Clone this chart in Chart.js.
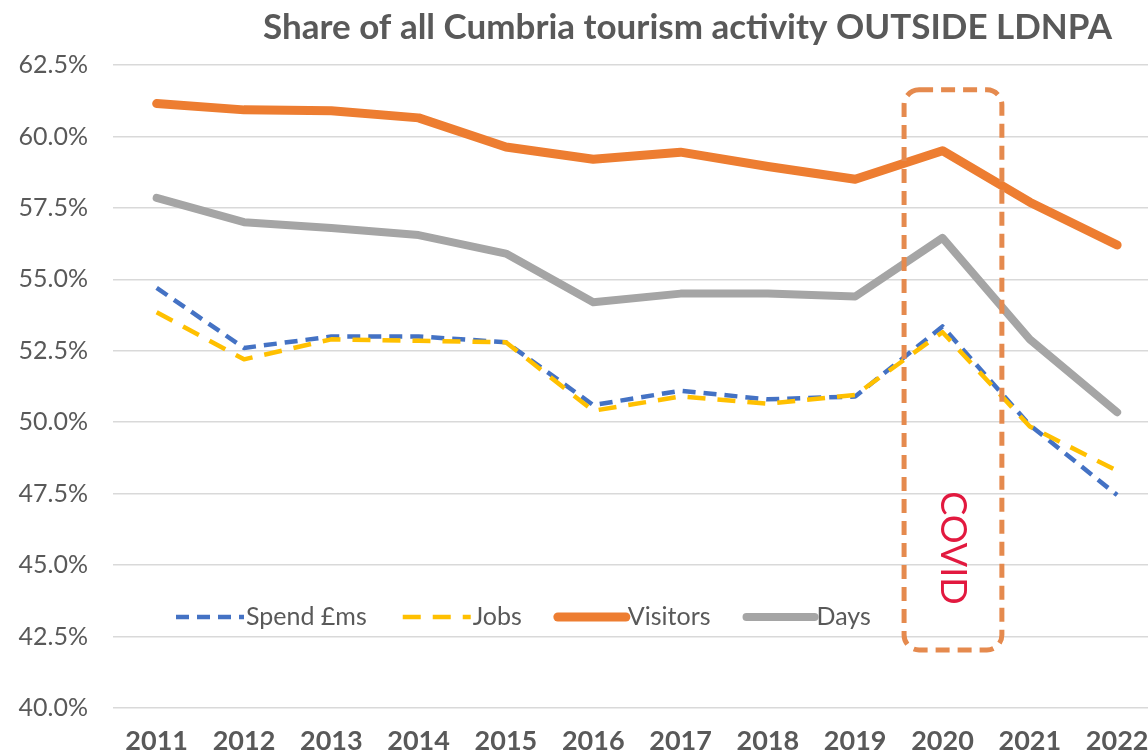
<!DOCTYPE html>
<html>
<head>
<meta charset="utf-8">
<script src="https://cdn.jsdelivr.net/npm/chart.js@4.4.1/dist/chart.umd.min.js"></script>
<style>
  html, body { margin: 0; padding: 0; background: #fff; overflow: hidden; }
  /* the original picture is cropped on the right, so the canvas runs past the window */
  #wrap { position: relative; width: 1180px; height: 755px; }
</style>
</head>
<body>
<div id="wrap"><canvas id="lineChart"></canvas></div>
<script>
// chart data
const years = [2011, 2012, 2013, 2014, 2015, 2016, 2017, 2018, 2019, 2020, 2021, 2022];
const spend = [54.7, 52.6, 53.0, 53.0, 52.8, 50.6, 51.1, 50.8, 50.9, 53.35, 49.9, 47.45];
const jobs = [53.85, 52.2, 52.9, 52.85, 52.8, 50.4, 50.9, 50.65, 50.95, 53.15, 49.85, 48.3];
const visitors = [61.15, 60.93, 60.9, 60.65, 59.63, 59.2, 59.45, 58.95, 58.5, 59.5, 57.7, 56.2];
const days = [57.85, 57.0, 56.8, 56.55, 55.9, 54.2, 54.5, 54.5, 54.4, 56.45, 52.9, 50.35];
const yTicks = [40, 42.5, 45, 47.5, 50, 52.5, 55, 57.5, 60, 62.5];

const titleText = 'Share of all Cumbria tourism activity OUTSIDE LDNPA';
const FONT = 'Lato, "Open Sans", sans-serif';
const GREY_TEXT = '#595959';

// covid box in data units
const covidBox = { x0: 2019.56, x1: 2020.68, y0: 42.03, y1: 61.63 };

function toPoints(values) {
    return values.map((v, i) => ({ x: years[i], y: v }));
}

// title drawn right-aligned like the original
const titlePlugin = {
    id: 'customTitle',
    afterDraw(chart) {
        const ctx = chart.ctx;
        ctx.save();
        ctx.font = 'bold 35px ' + FONT;
        ctx.fillStyle = GREY_TEXT;
        ctx.textAlign = 'right';
        ctx.textBaseline = 'middle';
        ctx.fillText(titleText, 1112, 28);
        ctx.restore();
    }
};

// the dashed COVID box and its rotated label
const covidPlugin = {
    id: 'covidBox',
    afterDatasetsDraw(chart) {
        const { ctx, scales: { x, y } } = chart;
        const l = x.getPixelForValue(covidBox.x0);
        const r = x.getPixelForValue(covidBox.x1);
        const t = y.getPixelForValue(covidBox.y1);
        const b = y.getPixelForValue(covidBox.y0);
        ctx.save();
        ctx.strokeStyle = '#E58A4E';
        ctx.lineWidth = 5;
        ctx.setLineDash([14, 8]);
        ctx.beginPath();
        ctx.roundRect(l, t, r - l, b - t, 15);
        ctx.stroke();
        ctx.setLineDash([]);
        ctx.translate((l + r) / 2, y.getPixelForValue(45.6));
        ctx.rotate(Math.PI / 2);
        ctx.font = '36px ' + FONT;
        ctx.fillStyle = '#E2193F';
        ctx.textAlign = 'center';
        ctx.textBaseline = 'middle';
        ctx.fillText('COVID', 0, 0);
        ctx.restore();
    }
};

// legend inside the plot area
const legendPlugin = {
    id: 'innerLegend',
    afterDraw(chart) {
        const ctx = chart.ctx;
        let xPos = 176;
        const yPos = 617;
        ctx.save();
        ctx.font = '25px ' + FONT;
        ctx.textBaseline = 'middle';
        ctx.textAlign = 'left';
        chart.data.datasets.forEach(ds => {
            ctx.strokeStyle = ds.borderColor;
            ctx.lineWidth = ds.borderWidth;
            ctx.lineCap = ds.borderCapStyle || 'butt';
            ctx.setLineDash(ds.borderDash || []);
            ctx.beginPath();
            ctx.moveTo(xPos, yPos);
            ctx.lineTo(xPos + 68, yPos);
            ctx.stroke();
            ctx.setLineDash([]);
            ctx.fillStyle = GREY_TEXT;
            ctx.fillText(ds.label, xPos + 70, yPos);
            xPos += 70 + ctx.measureText(ds.label).width + 36;
        });
        ctx.restore();
    }
};

const ctx = document.getElementById('lineChart').getContext('2d');
const lineChart = new Chart(ctx, {
    type: 'line',
    data: {
        datasets: [
            {
                label: 'Spend £ms',
                data: toPoints(spend),
                borderColor: '#4472C4',
                borderWidth: 4.5,
                borderDash: [13, 8],
                order: 2
            },
            {
                label: 'Jobs',
                data: toPoints(jobs),
                borderColor: '#FFC000',
                borderWidth: 4.5,
                borderDash: [18, 12],
                order: 1
            },
            {
                label: 'Visitors',
                data: toPoints(visitors),
                borderColor: '#ED7D31',
                borderWidth: 9,
                borderCapStyle: 'round',
                order: 3
            },
            {
                label: 'Days',
                data: toPoints(days),
                borderColor: '#A5A5A5',
                borderWidth: 8,
                borderCapStyle: 'round',
                order: 4
            }
        ]
    },
    options: {
        responsive: true,
        maintainAspectRatio: false,
        animation: false,
        layout: { padding: { top: 65, right: 0, bottom: 0, left: 0 } },
        elements: {
            point: { radius: 0, hoverRadius: 0 },
            line: { tension: 0, borderJoinStyle: 'round', fill: false }
        },
        plugins: {
            legend: { display: false },
            title: { display: false },
            tooltip: { enabled: false }
        },
        scales: {
            x: {
                type: 'linear',
                min: 2010.5,
                max: 2022.72,
                afterBuildTicks: scale => { scale.ticks = years.map(v => ({ value: v })); },
                afterFit: scale => { scale.height = 47; },
                ticks: {
                    callback: v => String(v),
                    color: GREY_TEXT,
                    font: { family: FONT, size: 27, weight: 'bold', lineHeight: 1 },
                    padding: 20,
                    maxRotation: 0,
                    autoSkip: false
                },
                grid: { display: false, drawTicks: false },
                border: { display: false }
            },
            y: {
                min: 40,
                max: 62.5,
                afterBuildTicks: scale => { scale.ticks = yTicks.map(v => ({ value: v })); },
                afterFit: scale => { scale.width = 113; },
                ticks: {
                    callback: v => v.toFixed(1) + '%',
                    color: GREY_TEXT,
                    font: { family: FONT, size: 25 },
                    padding: 25
                },
                grid: { color: '#D9D9D9', lineWidth: 1.5, drawTicks: false },
                border: { display: false }
            }
        }
    },
    plugins: [covidPlugin, legendPlugin, titlePlugin]
});
</script>
</body>
</html>
